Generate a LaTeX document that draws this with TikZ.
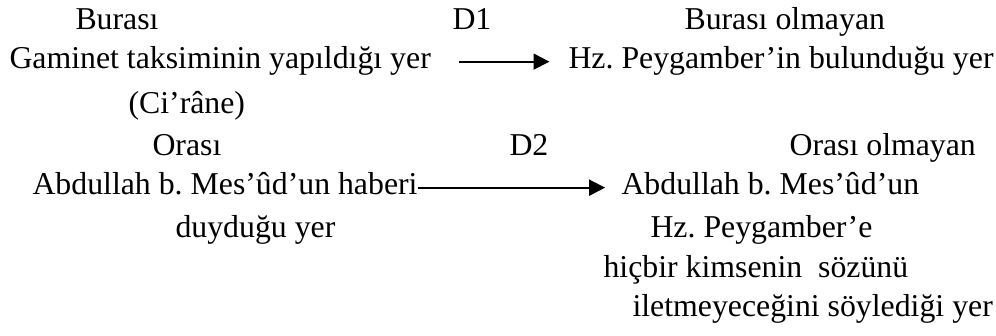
\documentclass[tikz,border=0pt]{standalone}
\usepackage{fontspec}
\setmainfont{Liberation Serif}
\usetikzlibrary{arrows.meta}
\frenchspacing
\tikzset{
    place/.style = {
        inner sep=0pt,
        anchor=base west,
        font=\fontsize{12}{14}\selectfont,
        text height=0.7em,
        text depth=0.22em,
        },
    relation/.style = {
        -{Triangle[length=6pt, width=6pt]},
        line width=0.7pt,
        },
}

\begin{document}
\begin{tikzpicture}
            [
                x=0.3774pt, y=-0.3774pt,
            ]
            \useasboundingbox (0,0) rectangle (996,335);

            \node [place] (bura) at (75,29) {Burası};
            \node [place] (dA) at (452,29) {D1};
            \node [place] (buraNot) at (684,29) {Burası olmayan};
            \node [place] (gaminet) at (9,68) {Gaminet taksiminin yapıldığı yer};
            \node [place] (peygamber) at (568,68) {Hz. Peygamber’in bulunduğu yer};
            \node [place] (cirane) at (128,113) {(Ci’râne)};

            \node [place] (ora) at (152,155) {Orası};
            \node [place] (dB) at (509,155) {D2};
            \node [place] (oraNot) at (789,155) {Orası olmayan};
            \node [place] (haber) at (32,194) {Abdullah b. Mes’ûd’un haberi};
            \node [place] (mesud) at (621,194) {Abdullah b. Mes’ûd’un};
            \node [place] (duydu) at (175,237) {duyduğu yer};
            \node [place] (hzp) at (650,237) {Hz. Peygamber’e};
            \node [place] (kimse) at (603,277) {hiçbir kimsenin\ \ sözünü};
            \node [place] (ilet) at (632,316) {iletmeyeceğini söylediği yer};

            \draw [relation, shorten <=10.5pt, shorten >=7pt] (gaminet.east) -- (peygamber.west);
            \draw [relation, shorten >=6pt] (haber.east) -- (mesud.west);
        \end{tikzpicture}
\end{document}
